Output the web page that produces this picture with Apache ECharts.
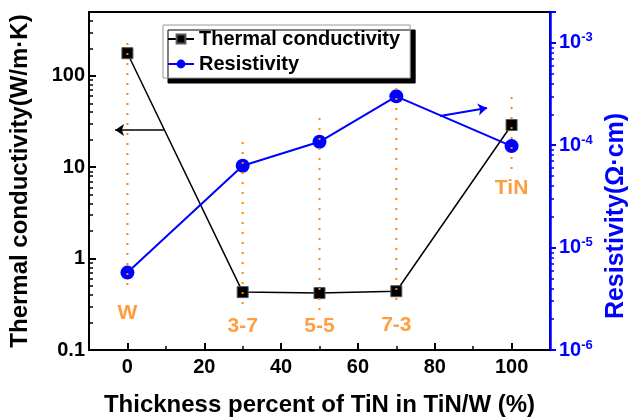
<!DOCTYPE html>
<html>
<head>
<meta charset="utf-8">
<script src="https://cdn.jsdelivr.net/npm/echarts@6/dist/echarts.min.js"></script>
<style>
  html, body { margin: 0; padding: 0; background: #fff; }
  #chart { width: 630px; height: 418px; }
</style>
</head>
<body>
<div id="chart"></div>
<script>
// Thermal conductivity and resistivity of TiN/W stacks vs. TiN thickness share
const thicknessPct = [0, 30, 50, 70, 100];
const thermalCond = [177, 0.43, 0.42, 0.44, 29];            // W/m·K
const resistivity = [5.7e-6, 6.3e-5, 1.08e-4, 3.0e-4, 9.8e-5]; // Ω·cm

// Sample names and where they sit (left-axis units)
const sampleNames = ['W', '3-7', '5-5', '7-3', 'TiN'];
const sampleNameY = [0.254, 0.18, 0.18, 0.185, 5.9];

// Vertical dotted guides through each sample (left-axis units)
const guideTop = [229, 18.9, 34.6, 73.6, 58.7];
const guideBottom = [0.514, 0.26, 0.274, 0.327, 9.33];

// Axis ticks
const xMajorTicks = [0, 20, 40, 60, 80, 100];
const xMinorTicks = [10, 30, 50, 70, 90];
const leftMinorTicks = [0.2, 0.3, 0.4, 0.5, 0.6, 0.7, 0.8, 0.9,
  2, 3, 4, 5, 6, 7, 8, 9, 20, 30, 40, 50, 60, 70, 80, 90, 200, 300, 400];
const rightMinorTicks = [2e-6, 3e-6, 4e-6, 5e-6, 6e-6, 7e-6, 8e-6, 9e-6,
  2e-5, 3e-5, 4e-5, 5e-5, 6e-5, 7e-5, 8e-5, 9e-5,
  2e-4, 3e-4, 4e-4, 5e-4, 6e-4, 7e-4, 8e-4, 9e-4];

const LEFT_MIN = 0.1, LEFT_MAX = 500;
const RIGHT_MIN = 1e-6, RIGHT_MAX = 2e-3;

const FONT = '"Liberation Sans", Arial, sans-serif';
const ORANGE = '#FF8410';
const BLUE = '#0000FF';

function isPow10(v) {
  const e = Math.log10(v);
  return Math.abs(e - Math.round(e)) < 1e-6;
}

const chart = echarts.init(document.getElementById('chart'), null, { renderer: 'canvas' });

const guideSeries = thicknessPct.map((x, i) => ({
  type: 'line',
  xAxisIndex: 0,
  yAxisIndex: 0,
  data: [[x, guideTop[i]], [x, guideBottom[i]]],
  symbol: 'none',
  silent: true,
  z: 5,
  lineStyle: { color: ORANGE, width: 2, type: [2, 8] }
}));

const option = {
  animation: false,
  backgroundColor: '#fff',
  grid: {
    left: 89, right: 80, top: 12, bottom: 68,
    outerBoundsMode: 'none',
    show: true, borderColor: '#000', borderWidth: 2, backgroundColor: 'transparent'
  },
  legend: {
    orient: 'vertical',
    left: 163, top: 25,
    itemWidth: 26, itemHeight: 11, itemGap: 5,
    padding: [4, 10, 4, 4],
    backgroundColor: '#fff',
    borderColor: '#9a9a9a', borderWidth: 1,
    shadowColor: '#000', shadowBlur: 0, shadowOffsetX: 5, shadowOffsetY: 5,
    textStyle: { fontFamily: FONT, fontWeight: 'bold', fontSize: 20, color: '#000' },
    data: ['Thermal conductivity', 'Resistivity']
  },
  xAxis: [
    {
      type: 'value', min: -10, max: 110,
      name: 'Thickness percent of TiN in TiN/W (%)',
      nameLocation: 'middle', nameGap: 43,
      nameTextStyle: { fontFamily: FONT, fontWeight: 'bold', fontSize: 24, color: '#000' },
      axisLine: { show: true, onZero: false, lineStyle: { color: '#000', width: 2 } },
      axisTick: { inside: true, length: 7, lineStyle: { color: '#000', width: 2 }, customValues: xMajorTicks },
      axisLabel: { customValues: xMajorTicks, margin: 7, fontFamily: FONT, fontWeight: 'bold', fontSize: 20, color: '#000' },
      splitLine: { show: false }
    },
    {
      type: 'value', min: -10, max: 110, position: 'bottom',
      axisLine: { show: false, onZero: false },
      axisTick: { inside: true, length: 4, lineStyle: { color: '#000', width: 1.5 }, customValues: xMinorTicks },
      axisLabel: { show: false },
      splitLine: { show: false }
    }
  ],
  yAxis: [
    {
      type: 'log', logBase: 10, min: LEFT_MIN, max: LEFT_MAX, position: 'left',
      name: 'Thermal conductivity(W/m·K)',
      nameLocation: 'middle', nameGap: 57,
      nameTextStyle: { fontFamily: FONT, fontWeight: 'bold', fontSize: 24, color: '#000' },
      axisLine: { show: true, onZero: false, lineStyle: { color: '#000', width: 2 } },
      axisTick: { inside: true, length: 7, lineStyle: { color: '#000', width: 2 } },
      axisLabel: {
        margin: 4, fontFamily: FONT, fontWeight: 'bold', fontSize: 20, color: '#000',
        formatter: v => {
          if (!isPow10(v)) return '';
          const e = Math.round(Math.log10(v));
          return e < 0 ? '0.1' : String(Math.pow(10, e));
        }
      },
      splitLine: { show: false }
    },
    {
      type: 'log', logBase: 10, min: RIGHT_MIN, max: RIGHT_MAX, position: 'right',
      name: 'Resistivity(Ω·cm)',
      nameLocation: 'middle', nameGap: 50,
      nameTextStyle: { fontFamily: FONT, fontWeight: 'bold', fontSize: 25, color: BLUE, padding: [0, 70, 0, 0] },
      axisLine: { show: true, onZero: false, lineStyle: { color: BLUE, width: 2.5 } },
      axisTick: { inside: false, length: 6, lineStyle: { color: BLUE, width: 2 } },
      axisLabel: {
        margin: 9,
        formatter: v => {
          if (!isPow10(v)) return '';
          const e = Math.round(Math.log10(v));
          return '{b|10}{s|' + e + '}';
        },
        rich: {
          b: { fontFamily: FONT, fontWeight: 'bold', fontSize: 20, color: BLUE },
          s: { fontFamily: FONT, fontWeight: 'bold', fontSize: 13, color: BLUE, verticalAlign: 'bottom', padding: [0, 0, 10, 0] }
        }
      },
      splitLine: { show: false }
    },
    {
      type: 'value', min: Math.log10(LEFT_MIN), max: Math.log10(LEFT_MAX), position: 'left',
      axisLine: { show: false, onZero: false },
      axisTick: { inside: true, length: 4, lineStyle: { color: '#000', width: 1.5 }, customValues: leftMinorTicks.map(Math.log10) },
      axisLabel: { show: false },
      splitLine: { show: false }
    },
    {
      type: 'value', min: Math.log10(RIGHT_MIN), max: Math.log10(RIGHT_MAX), position: 'right',
      axisLine: { show: false, onZero: false },
      axisTick: { inside: false, length: 4, lineStyle: { color: BLUE, width: 1.5 }, customValues: rightMinorTicks.map(Math.log10) },
      axisLabel: { show: false },
      splitLine: { show: false }
    }
  ],
  series: [
    {
      name: 'Thermal conductivity',
      type: 'line',
      xAxisIndex: 0, yAxisIndex: 0,
      data: thicknessPct.map((x, i) => [x, thermalCond[i]]),
      symbol: 'rect', symbolSize: 11,
      z: 3,
      itemStyle: { color: '#000', borderColor: '#555', borderWidth: 1 },
      lineStyle: { color: '#000', width: 1.5 },
      markLine: {
        silent: true,
        symbol: ['none', 'arrow'], symbolSize: 9,
        label: { show: false },
        lineStyle: { color: '#000', width: 1.5, type: 'solid' },
        data: [[{ coord: [9.5, 25.5] }, { coord: [-3.2, 25.5] }]]
      }
    },
    {
      name: 'Resistivity',
      type: 'line',
      xAxisIndex: 0, yAxisIndex: 1,
      data: thicknessPct.map((x, i) => [x, resistivity[i]]),
      symbol: 'circle', symbolSize: 14,
      z: 3,
      itemStyle: { color: BLUE },
      lineStyle: { color: BLUE, width: 2 },
      markLine: {
        silent: true,
        symbol: ['none', 'arrow'], symbolSize: 9,
        label: { show: false },
        lineStyle: { color: BLUE, width: 2, type: 'solid' },
        data: [[{ coord: [81.4, 1.93e-4] }, { coord: [93.6, 2.31e-4] }]]
      }
    },
    ...guideSeries,
    {
      type: 'scatter',
      xAxisIndex: 0, yAxisIndex: 0,
      symbolSize: 0,
      silent: true,
      z: 6,
      data: thicknessPct.map((x, i) => ({ value: [x, sampleNameY[i]], name: sampleNames[i] })),
      label: {
        show: true, position: 'inside', formatter: p => p.name,
        fontFamily: FONT, fontWeight: 'bold', fontSize: 21, color: ORANGE
      }
    }
  ]
};

chart.setOption(option);
</script>
</body>
</html>
